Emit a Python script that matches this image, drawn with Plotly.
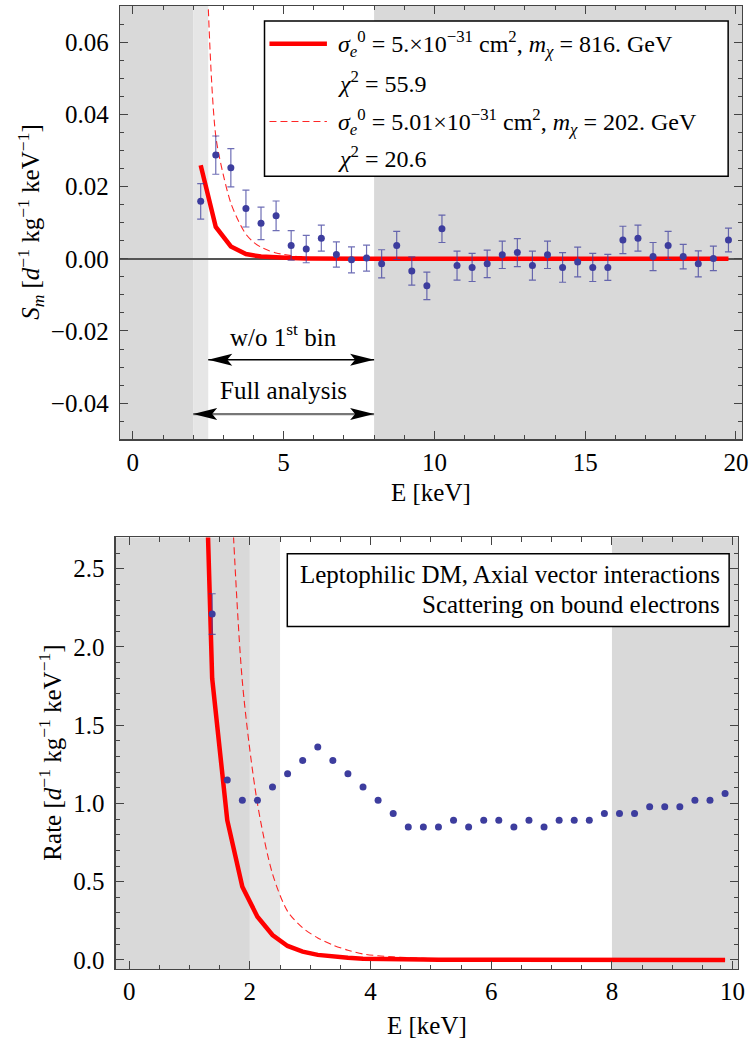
import plotly.graph_objects as go

# ---------------- top panel: modulation amplitude S_m (0.5 keV bins) ----------------
sm_E = [2.25, 2.75, 3.25, 3.75, 4.25, 4.75, 5.25, 5.75, 6.25, 6.75, 7.25, 7.75,
        8.25, 8.75, 9.25, 9.75, 10.25, 10.75, 11.25, 11.75, 12.25, 12.75, 13.25, 13.75,
        14.25, 14.75, 15.25, 15.75, 16.25, 16.75, 17.25, 17.75, 18.25, 18.75, 19.25, 19.75]
sm_val = [0.0159, 0.0287, 0.0252, 0.0139, 0.0098, 0.0119, 0.0037, 0.0027, 0.0057, 0.0012, -0.0003, 0.0002,
          -0.0014, 0.0037, -0.0034, -0.0075, 0.0083, -0.0019, -0.0024, -0.0014, 0.0011, 0.0017, -0.0019, 0.0011,
          -0.0024, -0.0009, -0.0024, -0.0024, 0.0052, 0.0057, 0.0006, 0.0037, 0.0006, -0.0014, 0.0001, 0.0052]
sm_err = [0.0049, 0.0053, 0.0053, 0.0051, 0.0045, 0.0041, 0.0041, 0.0038, 0.0036, 0.0035, 0.0036, 0.0036,
          0.0039, 0.0039, 0.0039, 0.0038, 0.0038, 0.0040, 0.0039, 0.0038, 0.0038, 0.0039, 0.0040, 0.0038,
          0.0041, 0.0041, 0.0039, 0.0036, 0.0038, 0.0036, 0.0039, 0.0039, 0.0034, 0.0036, 0.0034, 0.0033]
# model m_chi = 816 GeV, evaluated on the bins
sm_fit816 = [0.0259, 0.0088, 0.0034, 0.0013, 0.0006, 0.0003, 0.0002, 0.0001, 0.0, 0.0, 0.0, 0.0,
             0.0, 0.0, 0.0, 0.0, 0.0, 0.0, 0.0, 0.0, 0.0, 0.0, 0.0, 0.0,
             0.0, 0.0, 0.0, 0.0, 0.0, 0.0, 0.0, 0.0, 0.0, 0.0, 0.0, 0.0]
# model m_chi = 202 GeV (smooth curve)
sm_fit202_E = [2.25, 2.5, 2.75, 3.0, 3.25, 3.5, 3.75, 4.0, 4.25, 4.5, 4.75, 5.0, 5.5, 6.0,
               7.0, 8.0, 10.0, 12.0, 14.0, 16.0, 18.0, 19.75]
sm_fit202 = [0.2, 0.070, 0.034, 0.0232, 0.0154, 0.0105, 0.0068, 0.0046, 0.0032, 0.0023, 0.0016, 0.0012, 0.0006, 0.0003,
             0.0001, 0.0, 0.0, 0.0, 0.0, 0.0, 0.0, 0.0]

# ---------------- bottom panel: total rate (0.25 keV bins) ----------------
rate_E = [1.375, 1.625, 1.875, 2.125, 2.375, 2.625, 2.875, 3.125, 3.375, 3.625, 3.875, 4.125,
          4.375, 4.625, 4.875, 5.125, 5.375, 5.625, 5.875, 6.125, 6.375, 6.625, 6.875, 7.125,
          7.375, 7.625, 7.875, 8.125, 8.375, 8.625, 8.875, 9.125, 9.375, 9.625, 9.875]
rate_val = [2.21, 1.15, 1.02, 1.02, 1.105, 1.19, 1.275, 1.36, 1.275, 1.19, 1.105, 1.02,
            0.935, 0.85, 0.85, 0.85, 0.893, 0.85, 0.893, 0.893, 0.85, 0.893, 0.85, 0.893,
            0.893, 0.893, 0.935, 0.935, 0.935, 0.978, 0.978, 0.978, 1.02, 1.02, 1.063]
rate_err_first = [0.13]
rate_fit816_E = [1.125, 1.375, 1.625, 1.875, 2.125, 2.375, 2.625, 2.875, 3.125, 3.375, 3.625, 3.875,
                 4.125, 4.375, 4.625, 4.875, 5.125, 5.375, 5.625, 5.875, 6.125, 6.375, 6.625, 6.875,
                 7.125, 7.375, 7.625, 7.875, 8.125, 8.375, 8.625, 8.875, 9.125, 9.375, 9.625, 9.875]
rate_fit816 = [5.1, 1.80, 0.893, 0.468, 0.276, 0.159, 0.089, 0.053, 0.032, 0.021, 0.013, 0.008,
               0.005, 0.0035, 0.0025, 0.0018, 0.0013, 0.001, 0.0007, 0.0005, 0.0004, 0.0003, 0.0002, 0.0002,
               0.0001, 0.0001, 0.0001, 0.0, 0.0, 0.0, 0.0, 0.0, 0.0, 0.0, 0.0, 0.0]
rate_fit202_E = [1.625, 1.875, 2.125, 2.375, 2.625, 2.875, 3.125, 3.375, 3.625, 3.875, 4.125, 4.375,
                 4.625, 4.875, 5.375, 5.875, 6.875, 7.875, 8.875, 9.875]
rate_fit202 = [3.55, 1.78, 1.0, 0.55, 0.31, 0.205, 0.14, 0.095, 0.062, 0.038, 0.026, 0.019,
               0.014, 0.010, 0.005, 0.003, 0.001, 0.0, 0.0, 0.0]

# analysis region boundaries [keV]
thr_full = 2.0
thr_wo1 = 2.5
e_max = 8.0

top_xrange = [-0.43, 20.2]
top_yrange = [-0.05, 0.07]
bot_xrange = [-0.225, 10.09]
bot_yrange = [-0.06, 2.70]

W, H = 751, 1044
FONT = "Liberation Serif"
FS = 25
RED = "#ff0000"
BLUE = "#3d3d9e"
FRAME = "#444444"
DARK = "#d9d9d9"
LIGHT = "#e6e6e6"


def px(x):
    return min(1.0, max(0.0, x / W))


def py(y):
    return min(1.0, max(0.0, 1 - y / H))


fig = go.Figure()

# ---- top panel traces
fig.add_trace(go.Scatter(x=sm_E, y=sm_fit816, mode="lines", line=dict(color=RED, width=4.5),
                         xaxis="x", yaxis="y", showlegend=False))
fig.add_trace(go.Scatter(x=sm_fit202_E, y=sm_fit202, mode="lines",
                         line=dict(color="rgba(255,0,0,0.85)", width=1.1, dash="7px,4px",
                                   shape="spline", smoothing=0.8),
                         xaxis="x", yaxis="y", showlegend=False))
fig.add_trace(go.Scatter(x=sm_E, y=sm_val, mode="markers", marker=dict(color=BLUE, size=7),
                         error_y=dict(type="data", array=sm_err, color="rgba(61,61,158,0.75)",
                                      thickness=1.2, width=3.5),
                         xaxis="x", yaxis="y", showlegend=False))

# ---- bottom panel traces
fig.add_trace(go.Scatter(x=rate_fit816_E, y=rate_fit816, mode="lines", line=dict(color=RED, width=4.5),
                         xaxis="x2", yaxis="y2", showlegend=False))
fig.add_trace(go.Scatter(x=rate_fit202_E, y=rate_fit202, mode="lines",
                         line=dict(color="rgba(255,0,0,0.85)", width=1.1, dash="7px,4px",
                                   shape="spline", smoothing=0.8),
                         xaxis="x2", yaxis="y2", showlegend=False))
fig.add_trace(go.Scatter(x=rate_E[:1], y=rate_val[:1], mode="markers", marker=dict(color=BLUE, size=7),
                         error_y=dict(type="data", array=rate_err_first, color="rgba(61,61,158,0.75)",
                                      thickness=1.2, width=3.5),
                         xaxis="x2", yaxis="y2", showlegend=False))
fig.add_trace(go.Scatter(x=rate_E[1:], y=rate_val[1:], mode="markers", marker=dict(color=BLUE, size=7),
                         xaxis="x2", yaxis="y2", showlegend=False))

tickfont = dict(family=FONT, size=FS, color="black")


def axis(domain, rng, dtick, mdtick, fmt=None, anchor=None, zeroline=False, standoff=5):
    d = dict(domain=domain, range=rng, showline=True, linecolor=FRAME, linewidth=1.2,
             mirror="allticks", ticks="inside", ticklen=8, tickwidth=1, tickcolor=FRAME,
             showgrid=False, zeroline=zeroline, tick0=0, dtick=dtick, tickfont=tickfont,
             ticklabelstandoff=standoff, ticklabeloverflow="allow",
             minor=dict(ticks="inside", ticklen=4.5, tickwidth=1, tickcolor=FRAME, dtick=mdtick, tick0=0,
                        showgrid=False),
             anchor=anchor, fixedrange=True)
    if fmt:
        d["tickformat"] = fmt
    if zeroline:
        d["zerolinecolor"] = "#555555"
        d["zerolinewidth"] = 1.5
    return d


fig.update_layout(
    width=W, height=H, margin=dict(l=0, r=0, t=0, b=0),
    paper_bgcolor="white", plot_bgcolor="white", showlegend=False,
    font=dict(family=FONT, size=FS, color="black"),
    xaxis=axis([px(121), px(749)], top_xrange, 5, 1, anchor="y", standoff=0),
    yaxis=axis([py(441), py(6)], top_yrange, 0.02, 0.005, fmt=".2f", anchor="x", zeroline=True),
    xaxis2=axis([px(116.7), px(745)], bot_xrange, 2, 0.5, anchor="y2", standoff=0),
    yaxis2=axis([py(973), py(539.5)], bot_yrange, 0.5, 0.1, fmt=".1f", anchor="x2"),
)

shapes = []
# shaded regions (top)
for (x0, x1, c) in [(top_xrange[0], thr_full, DARK), (thr_full, thr_wo1, LIGHT), (e_max, top_xrange[1], DARK)]:
    shapes.append(dict(type="rect", xref="x", yref="y domain", x0=x0, x1=x1, y0=0, y1=1,
                       fillcolor=c, line=dict(width=0), layer="below"))
# shaded regions (bottom)
for (x0, x1, c) in [(bot_xrange[0], thr_full, DARK), (thr_full, thr_wo1, LIGHT), (e_max, bot_xrange[1], DARK)]:
    shapes.append(dict(type="rect", xref="x2", yref="y2 domain", x0=x0, x1=x1, y0=0, y1=1,
                       fillcolor=c, line=dict(width=0), layer="below"))

# double arrows in the top panel
arrow_rows = [(thr_wo1, e_max, -0.028, "black", 1.5), (thr_full, e_max, -0.043, "#777777", 2.2)]


def head(xa, ya, direction):
    L, Wd, notch = 24, 6, 19
    s = -direction
    return dict(type="path", xref="x", yref="y", xsizemode="pixel", ysizemode="pixel",
                xanchor=xa, yanchor=ya,
                path=f"M0,0 L{s*L},{Wd} L{s*notch},0 L{s*L},{-Wd} Z",
                fillcolor="black", line=dict(width=0), layer="above")


for (a, b, yv, col, lw) in arrow_rows:
    shapes.append(dict(type="line", xref="x", yref="y", x0=a, x1=b, y0=yv, y1=yv,
                       line=dict(color=col, width=lw), layer="above"))
    shapes.append(head(a, yv, -1))
    shapes.append(head(b, yv, +1))

# legend box (top) and label box (bottom)
shapes.append(dict(type="rect", xref="paper", yref="paper", x0=px(267), x1=px(735), y0=py(177), y1=py(21),
                   fillcolor="white", line=dict(color="black", width=1.5), layer="above"))
shapes.append(dict(type="line", xref="paper", yref="paper", x0=px(272), x1=px(330), y0=py(44), y1=py(44),
                   line=dict(color=RED, width=4.5), layer="above"))
shapes.append(dict(type="line", xref="paper", yref="paper", x0=px(272), x1=px(330), y0=py(122), y1=py(122),
                   line=dict(color="rgba(255,0,0,0.85)", width=1.1, dash="7px,4px"), layer="above"))
shapes.append(dict(type="rect", xref="paper", yref="paper", x0=px(290), x1=px(736), y0=py(629), y1=py(556),
                   fillcolor="white", line=dict(color="black", width=1.5), layer="above"))

sig = "<i>σ</i><sub><i>e</i></sub><sup>0</sup>"
mchi = "<i>m</i><sub><i>χ</i></sub>"
chi2 = "<i>χ</i><sup>2</sup>"
legend_rows = [
    (f"{sig} = 5.×10<sup>−31</sup> cm<sup>2</sup>, {mchi} = 816. GeV", 44),
    (f"{chi2} = 55.9", 82),
    (f"{sig} = 5.01×10<sup>−31</sup> cm<sup>2</sup>, {mchi} = 202. GeV", 122),
    (f"{chi2} = 20.6", 158),
]

annotations = []
for txt, yy in legend_rows:
    annotations.append(dict(xref="paper", yref="paper", x=px(339), y=py(yy), text=txt, showarrow=False,
                            xanchor="left", yanchor="middle", font=dict(family=FONT, size=24, color="black")))

annotations += [
    dict(xref="paper", yref="paper", x=px(729), y=py(577), text="Leptophilic DM, Axial vector interactions",
         showarrow=False, xanchor="right", yanchor="middle", font=dict(family=FONT, size=FS)),
    dict(xref="paper", yref="paper", x=px(729), y=py(607), text="Scattering on bound electrons",
         showarrow=False, xanchor="right", yanchor="middle", font=dict(family=FONT, size=FS)),
    dict(xref="x", yref="y", x=5.0, y=-0.021, text="w/o 1<sup>st</sup> bin", showarrow=False,
         xanchor="center", yanchor="middle", font=dict(family=FONT, size=FS)),
    dict(xref="x", yref="y", x=5.0, y=-0.0364, text="Full analysis", showarrow=False,
         xanchor="center", yanchor="middle", font=dict(family=FONT, size=FS)),
    # axis titles
    dict(xref="paper", yref="paper", x=px(435), y=py(494), text="E [keV]", showarrow=False,
         xanchor="center", yanchor="middle", font=dict(family=FONT, size=FS)),
    dict(xref="paper", yref="paper", x=px(431), y=py(1029), text="E [keV]", showarrow=False,
         xanchor="center", yanchor="middle", font=dict(family=FONT, size=FS)),
    dict(xref="paper", yref="paper", x=px(31), y=py(223), textangle=-90, showarrow=False,
         xanchor="center", yanchor="middle",
         text="<i>S</i><sub><i>m</i></sub> [<i>d</i><sup>−1</sup> kg<sup>−1</sup> keV<sup>−1</sup>]",
         font=dict(family=FONT, size=FS)),
    dict(xref="paper", yref="paper", x=px(51), y=py(756), textangle=-90, showarrow=False,
         xanchor="center", yanchor="middle",
         text="Rate [<i>d</i><sup>−1</sup> kg<sup>−1</sup> keV<sup>−1</sup>]",
         font=dict(family=FONT, size=FS)),
]

fig.update_layout(shapes=shapes, annotations=annotations)
fig.write_html("out.html", config={"displayModeBar": False, "staticPlot": True},
               post_script="document.body.style.margin='0';document.body.style.overflow='hidden';")
